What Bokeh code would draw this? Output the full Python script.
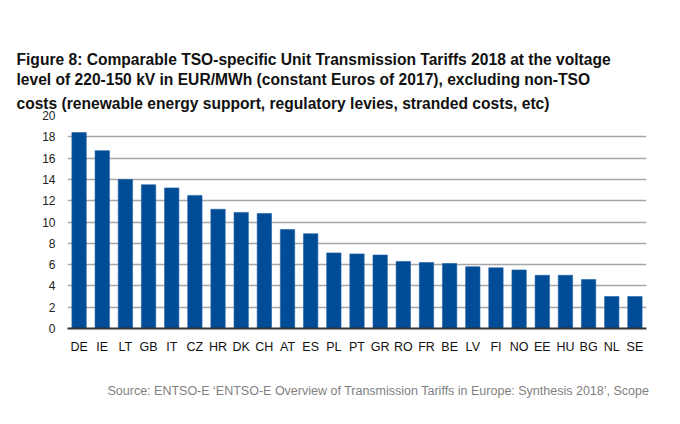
from bokeh.plotting import figure
from bokeh.models import FactorRange, Range1d, Title, FixedTicker
from bokeh.embed import file_html
from bokeh.resources import INLINE

countries = ["DE", "IE", "LT", "GB", "IT", "CZ", "HR", "DK", "CH", "AT", "ES", "PL", "PT",
             "GR", "RO", "FR", "BE", "LV", "FI", "NO", "EE", "HU", "BG", "NL", "SE"]
tariffs = [18.4, 16.7, 14.0, 13.5, 13.2, 12.5, 11.2, 10.9, 10.8, 9.3, 8.9, 7.1, 7.0,
           6.9, 6.3, 6.2, 6.1, 5.8, 5.7, 5.5, 5.0, 5.0, 4.6, 3.0, 3.0]
y_ticks = [0, 2, 4, 6, 8, 10, 12, 14, 16, 18, 20]
title_lines = [
    "Figure 8: Comparable TSO-specific Unit Transmission Tariffs 2018 at the voltage",
    "level of 220-150 kV in EUR/MWh (constant Euros of 2017), excluding non-TSO",
    "costs (renewable energy support, regulatory levies, stranded costs, etc)",
]
source_text = "Source: ENTSO-E \u2018ENTSO-E Overview of Transmission Tariffs in Europe: Synthesis 2018\u2019, Scope"

p = figure(width=664, height=422, output_backend="svg", toolbar_location=None,
           x_range=FactorRange(*countries, range_padding=0), y_range=Range1d(0, 20),
           title_location=None, min_border_left=67, min_border_right=18,
           min_border_top=115, min_border_bottom=94)
p.outline_line_color = None
p.background_fill_color = "white"
p.border_fill_color = "white"

p.vbar(x=countries, top=tariffs, width=0.62, fill_color="#004C97", line_color="#1f5fa8",
       line_width=0.6)

TITLE_FONT = "Liberation Sans"
standoffs = [8, 1.4, 1.4]  # nearest the plot first
for line, so in zip(reversed(title_lines), standoffs):
    t = Title(text=line, align="left", offset=-51, text_font=TITLE_FONT,
              text_font_size="15.6px", text_font_style="bold", text_color="#111111",
              standoff=so)
    p.add_layout(t, "above")

src = Title(text=source_text, align="left", offset=40, text_font="Liberation Sans",
            text_font_size="12.5px", text_font_style="normal", text_color="#7f7f7f",
            standoff=50)
p.add_layout(src, "below")

# y axis
p.yaxis.ticker = FixedTicker(ticks=y_ticks)
p.yaxis.axis_line_color = None
p.yaxis.major_tick_line_color = None
p.yaxis.minor_tick_line_color = None
p.yaxis.major_label_standoff = 6
p.yaxis.major_label_text_font = "Liberation Sans"
p.yaxis.major_label_text_font_size = "12px"
p.yaxis.major_label_text_color = "#222222"

# x axis
p.xaxis.axis_line_color = "#333333"
p.xaxis.axis_line_width = 2
p.xaxis.major_tick_line_color = None
p.xaxis.minor_tick_line_color = None
p.xaxis.major_label_standoff = 5
p.xaxis.major_label_text_font = "Liberation Sans"
p.xaxis.major_label_text_font_size = "12.5px"
p.xaxis.major_label_text_color = "#111111"

p.xgrid.grid_line_color = None
p.ygrid.grid_line_color = "#a6a6a6"
p.ygrid.grid_line_width = 1.5

open("out.html", "w").write(file_html(p, INLINE))
